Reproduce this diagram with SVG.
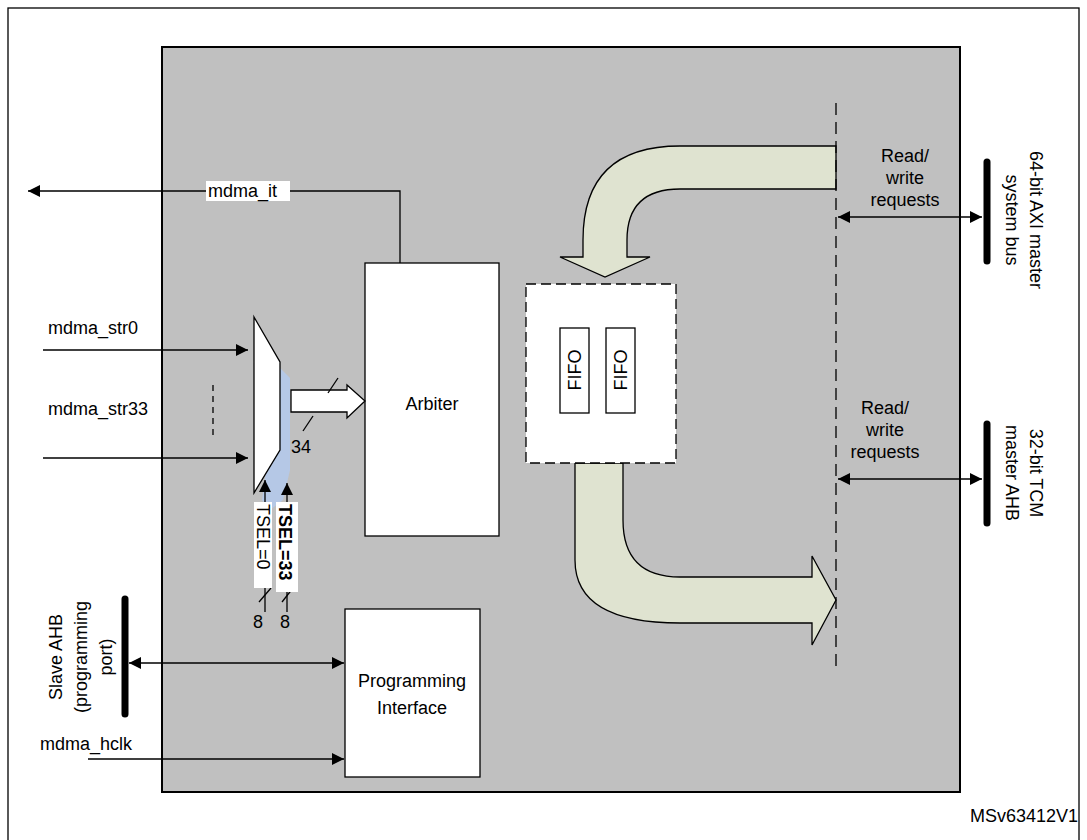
<svg xmlns="http://www.w3.org/2000/svg" width="1087" height="840" viewBox="0 0 1087 840">
<defs>
<style>
text{font-family:"Liberation Sans",Arial,sans-serif;font-size:18px;fill:#000}
.ln{stroke:#000;stroke-width:1.3;fill:none}
.box{fill:#fff;stroke:#000;stroke-width:1.3}
.bus{stroke:#000;stroke-width:7;stroke-linecap:round}
.flow{fill:#dfe3d0;stroke:#000;stroke-width:1.3}
</style>
<marker id="ah" viewBox="0 0 10 10" refX="10" refY="5" markerWidth="18" markerHeight="12" markerUnits="userSpaceOnUse" orient="auto-start-reverse"><path d="M0,0L10,5L0,10z" fill="#000"/></marker>
</defs>
<rect x="0" y="0" width="1087" height="840" fill="#fff"/>
<rect x="8" y="8" width="1071" height="840" fill="none" stroke="#000" stroke-width="1.3"/>
<rect id="mdma" x="162" y="47" width="798" height="745" fill="#c0c0c0" stroke="#000" stroke-width="2"/>

<g id="flows">
<path class="flow" d="M836,146 H680 Q583,146 583,240 V257 H560 L605,277 L650,257 H627 V240 Q627,189 680,189 H836 Z"/>
<path class="flow" d="M575,463 V560 Q575,623 680,623 H812 V645 L836,600 L812,556 V577 H680 Q623,577 623,520 V463 Z"/>
</g>
<line x1="836" y1="103" x2="836" y2="668" stroke="#000" stroke-width="1.3" stroke-dasharray="12,7"/>

<g id="fifo-block">
<rect x="526" y="284" width="150" height="179" fill="#fff" stroke="#000" stroke-width="1.3" stroke-dasharray="10,5"/>
<rect class="box" x="560" y="328" width="29" height="85"/>
<rect class="box" x="606" y="328" width="29" height="85"/>
<text transform="translate(581,370) rotate(-90)" text-anchor="middle">FIFO</text>
<text transform="translate(627,370) rotate(-90)" text-anchor="middle">FIFO</text>
</g>

<g id="arbiter"><rect class="box" x="365" y="263" width="134" height="273"/><text x="432" y="410" text-anchor="middle">Arbiter</text></g>
<g id="prog"><rect class="box" x="345" y="609" width="135" height="168"/><text x="412" y="687" text-anchor="middle" font-size="20">Programming</text><text x="412" y="714" text-anchor="middle" font-size="20">Interface</text></g>

<g id="mux">
<path d="M280,368 L290,378 V470 L283,500 L270,510 L262,500 Z" fill="#b5c8e6"/>
<path class="box" d="M254,317 L280,362 V450 L254,493 Z"/>
<path d="M291,390 H347 V385 L365,401 L347,418 V412 H291 Z" fill="#fff" stroke="#000" stroke-width="1.3"/>
<line class="ln" x1="328" y1="393" x2="338" y2="378"/>
<line class="ln" x1="303" y1="431" x2="313" y2="416"/>
<text x="291" y="453">34</text>
</g>

<g id="connectors">
<polyline class="ln" points="400,263 400,191 28,191" marker-end="url(#ah)"/>
<line class="ln" x1="43" y1="350" x2="248" y2="350" marker-end="url(#ah)"/>
<line class="ln" x1="43" y1="458" x2="248" y2="458" marker-end="url(#ah)"/>
<line x1="213" y1="385" x2="213" y2="440" stroke="#000" stroke-width="1.3" stroke-dasharray="6,5"/>
<line class="ln" x1="265" y1="612" x2="265" y2="480" marker-end="url(#ah)"/>
<line class="ln" x1="287" y1="612" x2="287" y2="483" marker-end="url(#ah)"/>
<line class="ln" x1="259" y1="602" x2="271" y2="588"/>
<line class="ln" x1="282" y1="602" x2="293" y2="588"/>
<line class="ln" x1="838" y1="217" x2="982" y2="217" marker-start="url(#ah)" marker-end="url(#ah)"/>
<line class="ln" x1="838" y1="479" x2="982" y2="479" marker-start="url(#ah)" marker-end="url(#ah)"/>
<line class="ln" x1="129" y1="663" x2="344" y2="663" marker-start="url(#ah)" marker-end="url(#ah)"/>
<line class="ln" x1="88" y1="759" x2="344" y2="759" marker-end="url(#ah)"/>
</g>

<g id="labels">
<rect x="206" y="181" width="84" height="20" fill="#fff"/>
<text x="208" y="197">mdma_it</text>
<text x="48" y="334">mdma_str0</text>
<text x="48" y="415">mdma_str33</text>
<rect x="254" y="502" width="18" height="86" fill="#fff"/>
<rect x="276" y="502" width="22" height="90" fill="#fff"/>
<text transform="translate(257,504) rotate(90)">TSEL=0</text>
<text transform="translate(279,504) rotate(90)" font-weight="bold">TSEL=33</text>
<text x="258" y="628" text-anchor="middle">8</text>
<text x="285" y="628" text-anchor="middle">8</text>
<text x="40" y="750">mdma_hclk</text>
<text x="905" y="162" text-anchor="middle">Read/</text>
<text x="905" y="184" text-anchor="middle">write</text>
<text x="905" y="206" text-anchor="middle">requests</text>
<text x="885" y="414" text-anchor="middle">Read/</text>
<text x="885" y="436" text-anchor="middle">write</text>
<text x="885" y="458" text-anchor="middle">requests</text>
<text x="1078" y="822" font-size="12" text-anchor="end">MSv63412V1</text>
</g>

<g id="axi-bus"><line class="bus" x1="987" y1="162" x2="987" y2="261"/>
<text transform="translate(1030,220) rotate(90)" text-anchor="middle">64-bit AXI  master</text>
<text transform="translate(1006,220) rotate(90)" text-anchor="middle">system bus</text></g>
<g id="tcm-bus"><line class="bus" x1="987" y1="424" x2="987" y2="523"/>
<text transform="translate(1030,473) rotate(90)" text-anchor="middle">32-bit TCM</text>
<text transform="translate(1006,473) rotate(90)" text-anchor="middle">master AHB</text></g>
<g id="slave-bus"><line class="bus" x1="125" y1="599" x2="125" y2="714"/>
<text transform="translate(62,657) rotate(-90)" text-anchor="middle">Slave AHB</text>
<text transform="translate(87,657) rotate(-90)" text-anchor="middle">(programming</text>
<text transform="translate(112,657) rotate(-90)" text-anchor="middle">port)</text></g>
</svg>
